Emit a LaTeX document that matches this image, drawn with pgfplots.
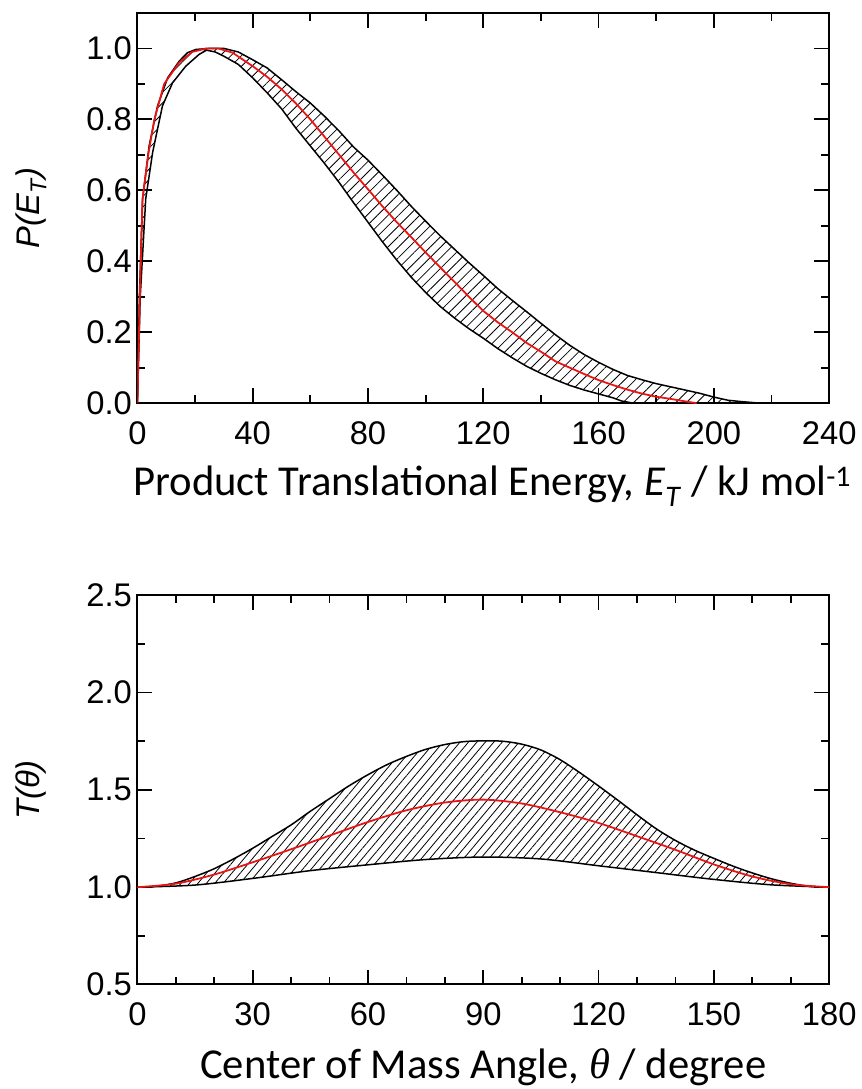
\documentclass[border=0pt]{standalone}
\usepackage{pgfplots}
\pgfplotsset{compat=1.18}
\usepgfplotslibrary{fillbetween}
\usetikzlibrary{patterns.meta}
\usepackage{fontspec}
\setmainfont{Liberation Sans}
\newfontfamily\titlefont{Carlito}
\newfontfamily\thetafont{Liberation Serif}
\definecolor{fitred}{RGB}{235,20,20}
\begin{document}
\begin{tikzpicture}
\pgfplotsset{
  mystyle/.style={
    scale only axis, width=695bp,
    axis line style={line width=2bp},
    every tick/.style={line width=1.8bp, black},
    major tick length=15bp, minor tick length=8bp,
    tick align=inside,
    ticklabel style={font=\fontsize{33}{33}\selectfont},
    /pgf/number format/assume math mode=true,
    xticklabel style={yshift=-15bp},
    yticklabel style={xshift=-2bp},
    every axis x label/.style={font=\titlefont\fontsize{43}{43}\selectfont, anchor=center},
    every axis y label/.style={font=\fontsize{33}{33}\selectfont\itshape, anchor=center, rotate=90},
  },
  bandline/.style={black, line width=1.5bp},
}
% ---------------- top panel ----------------
\begin{axis}[mystyle, height=392bp, at={(138bp,684bp)}, anchor=south west,
  xmin=0, xmax=240, ymin=0, ymax=1.1,
  xtick={0,40,...,240}, minor x tick num=1,
  ytick={0,0.2,...,1.0}, minor y tick num=1,
  yticklabel style={/pgf/number format/.cd,fixed,fixed zerofill,precision=1},
  xlabel={Product Translational Energy, \textit{E}\textsubscript{\textit{T}} / kJ mol\textsuperscript{-1}},
  ylabel={P(E\textsubscript{T})},
  x label style={at={(axis description cs:0.513,-0.212)}},
  y label style={at={(axis description cs:-0.154,0.5)}},
]
\addplot[name path=up, bandline] table {
0 0
0.7 0.30
1.8 0.576
4.1 0.726
7.0 0.838
10.5 0.917
14.5 0.964
17.4 0.988
20.3 0.997
25 1.0
30 1.0
35 0.99
40 0.968
45 0.945
50 0.912
55 0.878
60 0.846
65 0.808
70 0.767
75 0.722
80 0.685
85 0.643
90 0.60
95 0.555
100 0.513
105 0.472
110 0.434
115 0.396
120 0.36
125 0.323
130 0.29
135 0.258
140 0.225
145 0.193
150 0.163
155 0.137
160 0.115
165 0.095
170 0.078
175 0.066
180 0.055
185 0.046
190 0.037
195 0.028
200 0.017
205 0.008
210 0.004
216 0
};
\addplot[name path=lo, bandline] table {
0 0
1.0 0.30
2.9 0.576
5.3 0.707
8.7 0.838
12.2 0.903
16.8 0.95
21.4 0.983
24 0.995
27 0.99
30 0.978
35 0.955
40 0.917
45 0.875
50 0.83
55 0.775
60 0.725
65 0.675
70 0.622
75 0.565
80 0.51
85 0.455
90 0.403
95 0.355
100 0.312
105 0.273
110 0.24
115 0.21
120 0.183
125 0.154
130 0.128
135 0.104
140 0.084
145 0.066
150 0.05
155 0.037
160 0.026
165 0.015
168 0.006
172 0
};
\addplot[draw=none, pattern={Lines[angle=45,distance=7.5bp,line width=0.8bp]}, pattern color=black] fill between[of=up and lo];
\addplot[fitred, line width=1.8bp] table {
0 0
1.0 0.35
1.8 0.576
3.9 0.707
5.9 0.8
9.3 0.9
14.5 0.96
19 0.99
24 1.0
28 1.0
33 0.988
40 0.95
45 0.92
50 0.885
55 0.845
60 0.80
65 0.75
70 0.70
75 0.65
80 0.603
85 0.555
90 0.51
95 0.468
100 0.425
105 0.383
110 0.342
115 0.30
120 0.26
125 0.228
130 0.20
135 0.17
140 0.145
145 0.118
150 0.10
155 0.082
160 0.065
165 0.051
170 0.038
175 0.027
180 0.018
185 0.012
190 0.005
194 0
};
\end{axis}
% ---------------- bottom panel ----------------
\begin{axis}[mystyle, height=391bp, at={(138bp,100bp)}, anchor=south west,
  xmin=0, xmax=180, ymin=0.5, ymax=2.5,
  xtick={0,30,...,180}, minor x tick num=2,
  ytick={0.5,1.0,...,2.5}, minor y tick num=1,
  yticklabel style={/pgf/number format/.cd,fixed,fixed zerofill,precision=1},
  xlabel={Center of Mass Angle, {\thetafont\itshape θ} / degree},
  ylabel={T(θ)},
  x label style={at={(axis description cs:0.5,-0.2123)}},
  y label style={at={(axis description cs:-0.154,0.5)}},
]
\addplot[name path=up2, bandline, smooth] table {
0 1.0
5 1.005
10 1.022
15 1.055
20 1.095
25 1.145
30 1.20
35 1.26
40 1.32
45 1.39
50 1.455
55 1.52
60 1.578
65 1.63
70 1.672
75 1.708
80 1.733
85 1.748
90 1.752
95 1.75
100 1.735
105 1.705
110 1.655
115 1.59
120 1.52
125 1.447
130 1.372
135 1.30
140 1.24
145 1.19
150 1.148
155 1.108
160 1.073
165 1.043
170 1.02
175 1.004
180 1.0
};
\addplot[name path=lo2, bandline, smooth] table {
0 1.0
15 1.011
30 1.045
45 1.085
60 1.115
75 1.142
90 1.155
105 1.145
120 1.11
135 1.075
150 1.04
165 1.012
180 1.0
};
\addplot[draw=none, pattern={Lines[angle=50,distance=6.5bp,line width=0.8bp]}, pattern color=black] fill between[of=up2 and lo2];
\addplot[fitred, line width=1.8bp, smooth] table {
0 1.0
10 1.018
20 1.065
30 1.128
40 1.195
50 1.265
60 1.335
70 1.395
80 1.435
90 1.45
100 1.43
110 1.385
120 1.33
130 1.262
140 1.192
150 1.117
160 1.055
170 1.015
180 1.0
};
\end{axis}
\path (0,0) rectangle (865bp,1089bp);
\end{tikzpicture}
\end{document}
